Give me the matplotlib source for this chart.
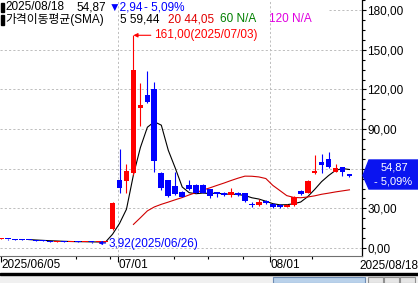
import numpy as np
import pandas as pd
import matplotlib
matplotlib.use('Agg')
import matplotlib.pyplot as plt
from matplotlib.patches import Rectangle, Polygon
from matplotlib.ticker import MultipleLocator, FuncFormatter

plt.rcParams['font.family'] = ['Liberation Sans', 'Noto Sans CJK KR', 'DejaVu Sans']
plt.rcParams['font.size'] = 8.5

# trading days 2025/06/05 .. 2025/08/18
dates = ['06/05', '06/09', '06/10', '06/11', '06/12', '06/13',
         '06/16', '06/17', '06/18', '06/19', '06/20',
         '06/23', '06/24', '06/25', '06/26', '06/27', '06/30',
         '07/01', '07/02', '07/03', '07/04', '07/07', '07/08', '07/09', '07/10', '07/11',
         '07/14', '07/15', '07/16', '07/17', '07/18', '07/21', '07/22', '07/23', '07/24', '07/25',
         '07/28', '07/29', '07/30', '07/31',
         '08/01', '08/04', '08/05', '08/06', '08/07', '08/08',
         '08/11', '08/12', '08/13', '08/14', '08/18']

opens = [6.8, 7.0, 6.6, 6.4, 6.1, 5.9, 5.6, 5.2, 4.9, 5.0, 4.6, 4.8, 4.5, 4.7, 4.3, 4.4,
         14.4, 51.5, 50.9, 57.0, 105.8, 115.9, 120.5, 57.0, 51.6, 47.1, 42.6, 48.0, 47.8, 47.8,
         44.6, 42.2, 41.9, 40.5, 41.8, 41.3, 32.8, 32.4, 35.9, 33.5, 32.9, 31.0, 32.2, 42.8, 42.0,
         56.7, 64.8, 67.2, 57.9, 61.0, 55.8]
highs = [7.4, 7.1, 6.8, 6.6, 6.3, 6.1, 5.8, 5.4, 5.3, 5.2, 4.9, 5.0, 4.9, 4.9, 4.6, 4.8,
         34.5, 75.0, 63.7, 161.0, 125.0, 134.0, 125.6, 57.6, 51.8, 57.6, 43.0, 51.6, 48.5, 48.3,
         45.0, 42.4, 42.2, 45.4, 42.2, 41.6, 34.8, 37.2, 36.2, 33.8, 33.2, 33.2, 39.0, 43.6, 51.5,
         70.5, 71.0, 72.5, 63.5, 61.2, 56.2]
lows = [6.6, 6.3, 6.2, 6.0, 5.8, 5.4, 5.0, 4.7, 4.6, 4.5, 4.3, 4.4, 4.2, 4.1, 3.92, 4.2,
        14.0, 41.8, 41.8, 55.0, 92.4, 110.0, 57.6, 44.0, 38.8, 40.5, 38.5, 44.0, 41.5, 41.6,
        38.0, 38.8, 39.2, 38.5, 39.5, 35.0, 31.0, 32.0, 33.6, 30.6, 30.6, 30.7, 32.0, 40.2, 41.5,
        56.0, 56.5, 60.8, 57.6, 54.3, 54.0]
closes = [7.2, 6.5, 6.3, 6.1, 5.9, 5.6, 5.2, 4.9, 5.1, 4.7, 4.8, 4.6, 4.7, 4.4, 4.5, 4.6,
          34.0, 45.4, 58.4, 134.6, 108.1, 110.6, 66.0, 45.6, 39.5, 41.0, 38.8, 44.5, 41.8, 42.0,
          39.0, 41.0, 39.8, 42.5, 40.0, 35.5, 32.4, 35.0, 34.2, 30.9, 31.0, 32.9, 38.5, 40.8, 50.9,
          58.4, 62.6, 61.5, 60.4, 57.81, 54.87]

# x axis marks (bar index units)
tick_pos = [0, 16.8, 38.6]
tick_labels = ['2025/06/05', '07/01', '08/01']
minor_pos = [10.8, 15.6, 24.8, 29.7, 34.7, 44.6]
last_label = '2025/08/18'
hidden_ylabel = 60   # covered by the price box in the original

W, H = 418, 283
RED, BLUE = '#FF0000', '#0000FF'


def fx(x):
    return x / W


def fy(y):
    return 1 - y / H


def num(v):
    return f'{v:.2f}'.replace('.', ',')


fig = plt.figure(figsize=(W / 100, H / 100), dpi=100)
ax = fig.add_axes([0, fy(255.7), fx(362), 255.7 / H])

x = np.arange(len(closes))
o = np.array(opens)
c = np.array(closes)
col = np.where(c >= o, RED, BLUE)

# moving averages (under the candles)
s = pd.Series(closes)
sma5 = s.rolling(5).mean()
sma20 = s.rolling(20).mean()
ax.plot(x, sma5, color='black', lw=0.8, zorder=3)
ax.plot(x, sma20, color='#D00000', lw=0.8, zorder=3)

# candles
ax.vlines(x, lows, highs, colors=col, lw=0.8, zorder=4)
ax.bar(x, np.maximum(np.abs(c - o), 0.8), bottom=np.minimum(o, c), width=0.82,
       color=col, lw=0, zorder=4)

# grid
for v in [0, 30, 60, 90, 120, 150]:
    ax.axhline(v, color='#BDBDBD', lw=0.7, dashes=(2.2, 2.2), zorder=1)
ax.axhline(180, xmin=0.91, color='#BDBDBD', lw=0.7, dashes=(2.2, 2.2), zorder=1)
for p in tick_pos[1:]:
    ax.axvline(p, color='#BDBDBD', lw=0.7, dashes=(2.2, 2.2), zorder=1)

ax.set_xlim(-0.15, 51.8)
ax.set_ylim(-5.8, 187.7)

ax.yaxis.tick_right()
ax.yaxis.set_major_locator(MultipleLocator(30))
ax.yaxis.set_minor_locator(MultipleLocator(7.5))
ax.yaxis.set_major_formatter(FuncFormatter(
    lambda v, p: '' if abs(v - hidden_ylabel) < 1e-6 else num(v)))
ax.tick_params(axis='y', which='major', length=3, width=0.8, pad=0.8, labelsize=8.5)
ax.tick_params(axis='y', which='minor', length=2, width=0.8)

ax.set_xticks(tick_pos)
ax.set_xticklabels(tick_labels)
ax.set_xticks(minor_pos, minor=True)
ax.tick_params(axis='x', which='major', length=4.3, width=0.8, pad=-1.6, labelsize=8.5)
ax.tick_params(axis='x', which='minor', length=2.2, width=0.8)
for t in ax.get_xticklabels():
    t.set_ha('left')
fig.text(1.0, fy(266), last_label, ha='right', va='center', fontsize=8.5)

for side in ['top', 'left']:
    ax.spines[side].set_visible(False)
ax.spines['bottom'].set_color('#707070')
ax.spines['right'].set_color('black')
ax.spines['right'].set_linewidth(0.9)

# high / low markers
ih = int(np.argmax(highs))
il = int(np.argmin(lows))
ax.annotate(f'{num(highs[ih])}(2025/{dates[ih]})', xy=(ih, highs[ih]), xytext=(14.5, 0),
            textcoords='offset points', color=RED, va='center', ha='left', fontsize=8.5,
            arrowprops=dict(arrowstyle='-|>', color=RED, lw=0.8, mutation_scale=6,
                            shrinkA=0, shrinkB=0), zorder=5)
ax.annotate(f'{num(lows[il])}(2025/{dates[il]})', xy=(il, lows[il]), xytext=(7, -1),
            textcoords='offset points', color=BLUE, va='center', ha='left', fontsize=8.5,
            arrowprops=dict(arrowstyle='-|>', color=BLUE, lw=0.8, mutation_scale=5,
                            shrinkA=0, shrinkB=0), zorder=5)

# legend lines at the top
change = closes[-1] - closes[-2]
pct = change / closes[-2] * 100
fig.patches.append(Rectangle((fx(1), fy(11.7)), fx(3), 8.4 / H, transform=fig.transFigure,
                             color='black'))
fig.patches.append(Rectangle((fx(1), fy(24.5)), fx(3), 9.5 / H, transform=fig.transFigure,
                             color='black'))
fig.text(fx(5), fy(7), f'2025/{dates[-1]}', va='center')
fig.text(fx(76), fy(7), num(closes[-1]), va='center')
fig.text(fx(109), fy(7), '▼' + num(abs(change)), va='center', color=BLUE)
fig.text(fx(144), fy(7), '- ' + num(abs(pct)) + '%', va='center', color=BLUE)
fig.text(fx(5), fy(19.5), '가격이동평균(SMA)', va='center')
fig.text(fx(120), fy(19.5), '5 ' + num(sma5.iloc[-1]), va='center')
fig.text(fx(168), fy(19.5), '20 ' + num(sma20.iloc[-1]), va='center', color='#E00000')
fig.text(fx(220), fy(19.5), '60 N/A', va='center', color='#008000')
fig.text(fx(269), fy(19.5), '120 N/A', va='center', color='#E000E0')

# current price box
box = [(363, 175.5), (369, 160), (418, 160), (418, 189), (369, 189)]
fig.patches.append(Polygon([(fx(a), fy(b)) for a, b in box], closed=True,
                           transform=fig.transFigure, color='#0A14F0'))
fig.text(fx(394), fy(167.5), num(closes[-1]), ha='center', va='center', color='white',
         fontsize=8)
fig.text(fx(393), fy(181.5), '- ' + num(abs(pct)) + '%', ha='center', va='center',
         color='white', fontsize=8)

# scroll bar strip at the bottom
fig.patches.append(Rectangle((0, 0), 1, fy(275), transform=fig.transFigure, color='#F0F0F0'))
fig.patches.append(Rectangle((0, fy(275)), 1, 1.8 / H, transform=fig.transFigure, color='black'))
fig.patches.append(Rectangle((fx(273), 0), fx(92), fy(276.5), transform=fig.transFigure,
                             facecolor='#B9D1EA', edgecolor='#6E8CB4', lw=0.8))
for bx in [368, 384, 400]:
    fig.patches.append(Rectangle((fx(bx), 0), fx(15), fy(276.5), transform=fig.transFigure,
                                 facecolor='#E6E6E6', edgecolor='#909090', lw=0.8))

plt.savefig('out.png', dpi=100)
